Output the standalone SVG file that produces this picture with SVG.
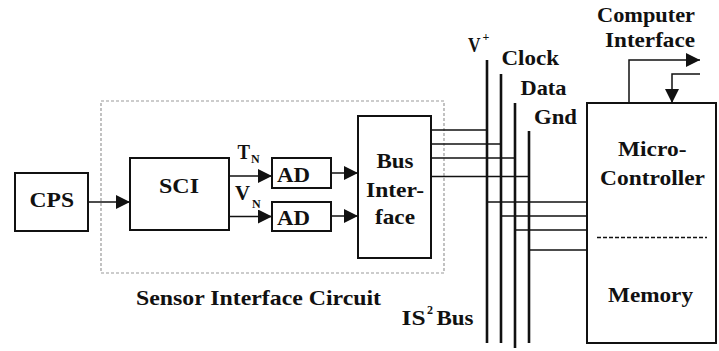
<svg xmlns="http://www.w3.org/2000/svg" width="719" height="351" viewBox="0 0 719 351">
<style>
.box{fill:#fff;stroke:#111;stroke-width:2}
text{font-family:'Liberation Serif','DejaVu Serif','Times New Roman',serif;font-weight:bold;fill:#111}
.t{font-size:22px}
.sub{font-size:12px}
.w{fill:none;stroke:#111;stroke-width:1.5}
.bus{fill:none;stroke:#111;stroke-width:2.6}
</style>
<defs>
<marker id="ah" markerUnits="userSpaceOnUse" markerWidth="14" markerHeight="14" viewBox="0 0 14 14" refX="14" refY="7" orient="auto">
<path d="M0,0 L14,7 L0,14 Z" fill="#111"/>
</marker>
</defs>
<rect width="719" height="351" fill="#fff"/>
<g id="sensor-interface-circuit">
<rect x="101" y="101" width="343" height="172" fill="none" stroke="#999" stroke-width="1.2" stroke-dasharray="3 2"/>
<text class="t" x="136" y="305" textLength="245" lengthAdjust="spacingAndGlyphs">Sensor Interface Circuit</text>
</g>
<g id="cps">
<rect class="box" x="15" y="173" width="73" height="58"/>
<text class="t" x="29.5" y="207" textLength="44.5" lengthAdjust="spacingAndGlyphs">CPS</text>
</g>
<g id="sci">
<rect class="box" x="130" y="158" width="99" height="72"/>
<text class="t" x="159" y="193" textLength="40" lengthAdjust="spacingAndGlyphs">SCI</text>
</g>
<g id="ad1">
<rect class="box" x="272" y="158" width="59" height="30"/>
<text class="t" x="277" y="182" textLength="33" lengthAdjust="spacingAndGlyphs">AD</text>
</g>
<g id="ad2">
<rect class="box" x="272" y="202" width="59" height="29"/>
<text class="t" x="277" y="225" textLength="33" lengthAdjust="spacingAndGlyphs">AD</text>
</g>
<g id="bus-interface">
<rect class="box" x="358" y="116" width="73" height="142"/>
<text class="t" x="376.5" y="168" textLength="37" lengthAdjust="spacingAndGlyphs">Bus</text>
<text class="t" x="366" y="196.5" textLength="58" lengthAdjust="spacingAndGlyphs">Inter-</text>
<text class="t" x="375" y="224" textLength="40" lengthAdjust="spacingAndGlyphs">face</text>
</g>
<g id="microcontroller">
<rect class="box" x="587" y="103" width="129" height="240"/>
<text class="t" x="618" y="156" textLength="68.5" lengthAdjust="spacingAndGlyphs">Micro-</text>
<text class="t" x="600" y="185" textLength="105" lengthAdjust="spacingAndGlyphs">Controller</text>
<line x1="597" y1="237.5" x2="707" y2="237.5" stroke="#111" stroke-width="1.5" stroke-dasharray="4 2"/>
<text class="t" x="608" y="301.5" textLength="85" lengthAdjust="spacingAndGlyphs">Memory</text>
</g>
<g id="labels">
<text class="t" x="237.5" y="158.5" textLength="12.5" lengthAdjust="spacingAndGlyphs">T</text>
<text class="sub" x="251" y="163">N</text>
<text class="t" x="235" y="200" textLength="15" lengthAdjust="spacingAndGlyphs">V</text>
<text class="sub" x="252" y="208">N</text>
<text class="t" x="468" y="51.5" textLength="12.5" lengthAdjust="spacingAndGlyphs">V</text>
<text class="sub" x="482.5" y="41">+</text>
<text class="t" x="501.5" y="65" textLength="57.5" lengthAdjust="spacingAndGlyphs">Clock</text>
<text class="t" x="520.5" y="95" textLength="46" lengthAdjust="spacingAndGlyphs">Data</text>
<text class="t" x="534" y="124" textLength="43" lengthAdjust="spacingAndGlyphs">Gnd</text>
<text class="t" x="597" y="22" textLength="98" lengthAdjust="spacingAndGlyphs">Computer</text>
<text class="t" x="605" y="46.5" textLength="90" lengthAdjust="spacingAndGlyphs">Interface</text>
<text class="t" x="401.5" y="325" textLength="24" lengthAdjust="spacingAndGlyphs">IS</text>
<text class="sub" x="427" y="314">2</text>
<text class="t" x="436.5" y="325" textLength="37" lengthAdjust="spacingAndGlyphs">Bus</text>
</g>
<g id="connectors">
<line class="w" x1="88" y1="202" x2="130" y2="202" marker-end="url(#ah)"/>
<line class="w" x1="229" y1="176" x2="272" y2="176" marker-end="url(#ah)"/>
<line class="w" x1="229" y1="216.5" x2="272" y2="216.5" marker-end="url(#ah)"/>
<line class="w" x1="331" y1="173" x2="358" y2="173" marker-end="url(#ah)"/>
<line class="w" x1="331" y1="216" x2="358" y2="216" marker-end="url(#ah)"/>
<line class="w" x1="431" y1="130" x2="487" y2="130"/>
<line class="w" x1="431" y1="144" x2="501" y2="144"/>
<line class="w" x1="431" y1="158" x2="515" y2="158"/>
<line class="w" x1="431" y1="176.5" x2="529" y2="176.5"/>
<line class="w" x1="487" y1="202" x2="587" y2="202"/>
<line class="w" x1="501" y1="216" x2="587" y2="216"/>
<line class="w" x1="515" y1="230" x2="587" y2="230"/>
<line class="w" x1="529" y1="250" x2="587" y2="250"/>
<line class="bus" x1="487" y1="60" x2="487" y2="343"/>
<line class="bus" x1="501" y1="74" x2="501" y2="343"/>
<line class="bus" x1="515" y1="103" x2="515" y2="348"/>
<line class="bus" x1="529" y1="131" x2="529" y2="343"/>
<polyline class="w" points="629,103 629,60 700,60" marker-end="url(#ah)"/>
<polyline class="w" points="700,74 672,74 672,103" marker-end="url(#ah)"/>
</g>
</svg>
